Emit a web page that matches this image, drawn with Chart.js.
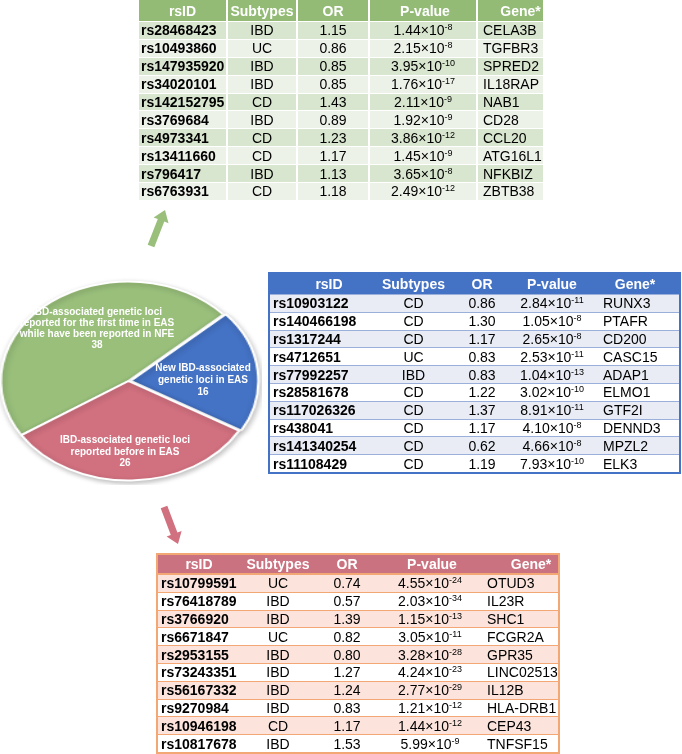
<!DOCTYPE html>
<html><head><meta charset="utf-8">
<script src="https://cdn.jsdelivr.net/npm/chart.js@4.4.0/dist/chart.umd.min.js"></script>
<style>
html,body{margin:0;padding:0;background:#fff;}
body{width:682px;height:754px;position:relative;overflow:hidden;font-family:Arial,"Liberation Sans",Helvetica,sans-serif;}
table{position:absolute;border-collapse:separate;border-spacing:0;table-layout:fixed;font-size:14px;color:#000;}
td,th{padding:0;box-sizing:border-box;white-space:nowrap;overflow:hidden;vertical-align:middle;}
th{color:#fff;font-weight:bold;text-align:center;line-height:16px;}
td.id{font-weight:bold;text-align:left;}
td.c{text-align:center;}
td.g{text-align:left;}
.sup{font-size:9px;position:relative;top:-5px;line-height:0;}
#pieWrap{position:absolute;left:-5px;top:277px;width:208px;height:208px;transform:scaleX(1.283);transform-origin:0 0;}
.plab{position:absolute;color:#fff;font-weight:bold;font-size:10px;text-align:center;white-space:nowrap;transform:translateX(-50%);}
/* green table */
#tG{left:139px;top:0;width:404px;}
#tG th{background:#93BB75;height:22px;border-right:2px solid #fff;border-bottom:1px solid #fff;}
#tG td{height:17.9px;line-height:16px;border-right:2px solid #fff;border-bottom:1px solid #fff;}
#tG th:last-child,#tG td:last-child{border-right:none;}
#tG tr.odd td{background:#D9E6CF;}
#tG tr.even td{background:#EDF2E9;}
#tG td.id{padding-left:2px;}
#tG td.g{padding-left:5px;}
/* blue table */
#tB{left:268px;top:272px;width:413px;border:2px solid #4472C4;}
#tB th{background:#4472C4;height:20px;}
#tB td{height:17.8px;line-height:16px;border-top:1px solid #9AB0DA;}
#tB tr.odd td{background:#E9ECF4;}
#tB tr.even td{background:#fff;}
#tB td.id{padding-left:3px;}
#tB td.g{padding-left:12px;}
/* red table */
#tR{left:156px;top:553px;width:404px;border:2px solid #F2A774;}
#tR th{background:#CB7280;height:20px;border-bottom:2px solid #F2A774;}
#tR td{height:17.8px;line-height:16px;border-bottom:1px solid #F2A774;}
#tR tr.odd td{background:#FCE4DC;}
#tR tr.even td{background:#fff;}
#tR td.id{padding-left:3px;}
#tR td.g{padding-left:5px;}
</style></head>
<body>
<div id="pieWrap"><canvas id="pie" width="208" height="208"></canvas></div>
<div id="labels"></div>
<svg id="arrows" width="682" height="754" style="position:absolute;left:0;top:0;pointer-events:none"></svg>
<table id="tG"></table>
<table id="tB"></table>
<table id="tR"></table>
<script>
// ---------------- data ----------------
const headers = ["rsID", "Subtypes", "OR", "P-value", "Gene*"];

const pieLabels = [
  ["IBD-associated genetic loci", "reported for the first time in EAS", "while have been reported in NFE"],
  ["New IBD-associated", "genetic loci in EAS"],
  ["IBD-associated genetic loci", "reported before in EAS"]
];
const pieValues = [38, 16, 26];
const pieColors = ["#99BF7B", "#4472C4", "#D1707F"];

// EAS first-time (green)
const greenRsID = ["rs28468423","rs10493860","rs147935920","rs34020101","rs142152795","rs3769684","rs4973341","rs13411660","rs796417","rs6763931"];
const greenSubtype = ["IBD","UC","IBD","IBD","CD","IBD","CD","CD","IBD","CD"];
const greenOR = [1.15,0.86,0.85,0.85,1.43,0.89,1.23,1.17,1.13,1.18];
const greenP = [1.44e-8,2.15e-8,3.95e-10,1.76e-17,2.11e-9,1.92e-9,3.86e-12,1.45e-9,3.65e-8,2.49e-12];
const greenGene = ["CELA3B","TGFBR3","SPRED2","IL18RAP","NAB1","CD28","CCL20","ATG16L1","NFKBIZ","ZBTB38"];

// New (blue)
const blueRsID = ["rs10903122","rs140466198","rs1317244","rs4712651","rs77992257","rs28581678","rs117026326","rs438041","rs141340254","rs11108429"];
const blueSubtype = ["CD","CD","CD","UC","IBD","CD","CD","CD","CD","CD"];
const blueOR = [0.86,1.30,1.17,0.83,0.83,1.22,1.37,1.17,0.62,1.19];
const blueP = [2.84e-11,1.05e-8,2.65e-8,2.53e-11,1.04e-13,3.02e-10,8.91e-11,4.10e-8,4.66e-8,7.93e-10];
const blueGene = ["RUNX3","PTAFR","CD200","CASC15","ADAP1","ELMO1","GTF2I","DENND3","MPZL2","ELK3"];

// Reported before (red)
const redRsID = ["rs10799591","rs76418789","rs3766920","rs6671847","rs2953155","rs73243351","rs56167332","rs9270984","rs10946198","rs10817678"];
const redSubtype = ["UC","IBD","IBD","UC","IBD","IBD","IBD","IBD","CD","IBD"];
const redOR = [0.74,0.57,1.39,0.82,0.80,1.27,1.24,0.83,1.17,1.53];
const redP = [4.55e-24,2.03e-34,1.15e-13,3.05e-11,3.28e-28,4.24e-23,2.77e-29,1.21e-12,1.44e-12,5.99e-9];
const redGene = ["OTUD3","IL23R","SHC1","FCGR2A","GPR35","LINC02513","IL12B","HLA-DRB1","CEP43","TNFSF15"];

// ---------------- tables ----------------
function fmtP(p){
  const s = p.toExponential(2).split('e');
  return s[0] + '\u00d710<span class="sup">' + String(parseInt(s[1],10)) + '</span>';
}
function buildTable(id, widths, ids, subs, ors, ps, genes, thStyles){
  const t = document.getElementById(id);
  let h = '<colgroup>' + widths.map(w => '<col style="width:'+w+'px">').join('') + '</colgroup>';
  h += '<tr>' + headers.map((x,i) => '<th style="'+(thStyles[i]||'')+'">'+x+'</th>').join('') + '</tr>';
  for (let i = 0; i < ids.length; i++){
    h += '<tr class="'+(i%2===0?'odd':'even')+'">' +
      '<td class="id">'+ids[i]+'</td>' +
      '<td class="c">'+subs[i]+'</td>' +
      '<td class="c">'+ors[i].toFixed(2)+'</td>' +
      '<td class="c">'+fmtP(ps[i])+'</td>' +
      '<td class="g">'+genes[i]+'</td></tr>';
  }
  t.innerHTML = h;
}
buildTable('tG', [89,70,72,108,65], greenRsID, greenSubtype, greenOR, greenP, greenGene, ['','','','padding-left:4px','padding-left:20px']);
buildTable('tB', [106,75,62,78,88], blueRsID, blueSubtype, blueOR, blueP, blueGene, ['padding-left:12px','','','','']);
buildTable('tR', [82,76,62,104,76], redRsID, redSubtype, redOR, redP, redGene, ['','','','padding-left:4px','padding-left:22px']);

// ---------------- arrows ----------------
function arrow(x1,y1,x2,y2,sw,hw,hl,color){
  const dx=x2-x1, dy=y2-y1, L=Math.hypot(dx,dy), ux=dx/L, uy=dy/L, px=-uy, py=ux;
  const bx=x2-ux*hl, by=y2-uy*hl;
  const pts=[[x1+px*sw/2,y1+py*sw/2],[bx+px*sw/2,by+py*sw/2],[bx+px*hw/2,by+py*hw/2],[x2,y2],
             [bx-px*hw/2,by-py*hw/2],[bx-px*sw/2,by-py*sw/2],[x1-px*sw/2,y1-py*sw/2]];
  return '<polygon fill="'+color+'" points="'+pts.map(p=>p[0].toFixed(1)+','+p[1].toFixed(1)).join(' ')+'"/>';
}
document.getElementById('arrows').innerHTML =
  arrow(151,246,165,210,7,16,11,pieColors[0]) +
  arrow(164,507,178,544,7,16,11,pieColors[2]);

// ---------------- pie ----------------
const shadowPlugin = {
  id:'pieShadow',
  beforeDatasetsDraw(chart){ const c=chart.ctx; c.save(); c.shadowColor='rgba(0,0,0,0.25)'; c.shadowBlur=5; c.shadowOffsetX=1; c.shadowOffsetY=2; },
  afterDatasetsDraw(chart){ chart.ctx.restore(); }
};
new Chart(document.getElementById('pie'), {
  type:'pie',
  data:{ labels: pieLabels.map(l=>l.join(' ')), datasets:[{ data: pieValues, backgroundColor: pieColors, borderColor:'#fff', borderWidth:2, offset:[0,7,0] }]},
  options:{ responsive:false, animation:false, rotation:-123, layout:{padding:0},
    plugins:{ legend:{display:false}, tooltip:{enabled:false} } },
  plugins:[shadowPlugin]
});

// pie labels (text overlay)
const labelPos = [[97,306,11],[203,362,12],[125,434,11.5]];
const lab = document.getElementById('labels');
pieLabels.forEach((lines,i)=>{
  const d=document.createElement('div');
  d.className='plab';
  d.style.left=labelPos[i][0]+'px'; d.style.top=labelPos[i][1]+'px'; d.style.lineHeight=labelPos[i][2]+'px';
  d.innerHTML=lines.concat([String(pieValues[i])]).join('<br>');
  lab.appendChild(d);
});
</script>
</body></html>
